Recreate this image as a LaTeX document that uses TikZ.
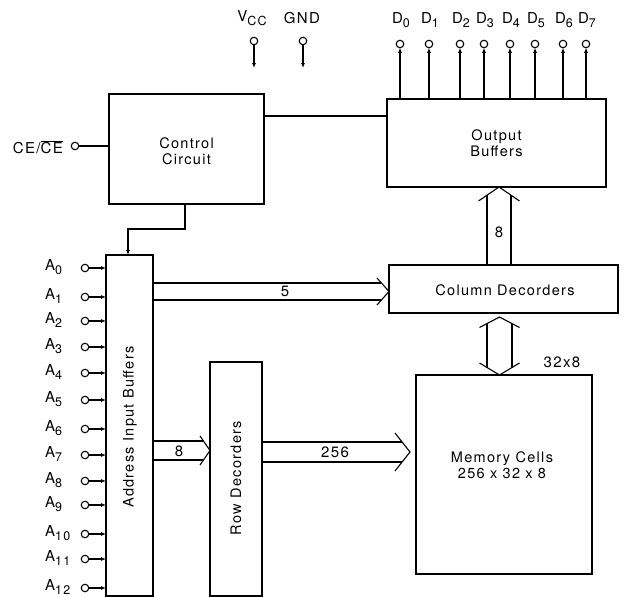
\documentclass[tikz,border=0pt]{standalone}
\usepackage{fontspec}
\setmainfont{TeX Gyre Heros}[LetterSpace=9]
\usetikzlibrary{calc,arrows.meta}
\newcommand\sbs[1]{\raisebox{-0.5ex}{\fontsize{12.5}{12.5}\selectfont #1}}
% open chevron heads: #1 tip coordinate name, #2 head length, #3 barb half span
\newcommand\headR[3]{\draw[bus] ($(#1)+(-#2,-#3)$) -- (#1) -- ($(#1)+(-#2,#3)$);}
\newcommand\headU[3]{\draw[bus] ($(#1)+(-#3,#2)$) -- (#1) -- ($(#1)+(#3,#2)$);}
\newcommand\headD[3]{\draw[bus] ($(#1)+(-#3,-#2)$) -- (#1) -- ($(#1)+(#3,-#2)$);}
\begin{document}
\begin{tikzpicture}[x=1pt,y=-1pt,
  box/.style={draw,line width=1.4pt,inner sep=0pt,outer sep=0pt},
  bus/.style={line width=1.1pt},
  sig/.style={line width=1.1pt,-{Latex[length=5pt,width=4pt]}},
  wire/.style={line width=1.1pt},
  pin/.style={draw,circle,line width=1.1pt,minimum size=7.5pt,inner sep=0pt,outer sep=0pt},
  txt/.style={font=\fontsize{14.5}{16}\selectfont,align=center,inner sep=0pt},
  lab/.style={font=\fontsize{15}{16}\selectfont,inner sep=0pt}]
\useasboundingbox (0,0) rectangle (624,597);

% blocks
\node[box,minimum width=155pt,minimum height=110pt] (ctrl) at (186.5,149) {};
\node[txt] (ctrltxt) at (186.5,151) {Control\\Circuit};
\node[box,minimum width=219pt,minimum height=88pt] (out) at (496.5,143) {};
\node[txt] (outtxt) at (496.5,143.5) {Output\\Buffers};
\node[box,minimum width=229pt,minimum height=48pt] (col) at (503.5,289) {};
\node[txt] (coltxt) at (505,290) {Column Decorders};
\node[box,minimum width=176pt,minimum height=199pt] (mem) at (504,474.5) {};
\node[txt] (memtxt) at (502,465) {Memory Cells\\256 x 32 x 8};
\node[box,minimum width=47pt,minimum height=341pt] (aib) at (129.5,425.5) {};
\node[txt,rotate=90] (aibtxt) at (130,427) {Address Input Buffers};
\node[box,minimum width=52pt,minimum height=234pt] (row) at (236,479) {};
\node[txt,rotate=90] (rowtxt) at (236,478) {Row Decorders};

% chip enable
\node[pin] (ce) at (75,146) {};
\node[lab,anchor=east] (celab) at (63,147) {CE/$\overline{\mbox{CE}}$};
\draw[wire] (ce.east) -- (ce -| ctrl.west);

% control to output buffers
\coordinate (c1) at ($(ctrl.east)+(0,-33)$);
\draw[wire] (c1) -- (c1 -| out.west);

% control to address buffers
\coordinate (c2) at ($(ctrl.south)+(-1.5,0)$);
\coordinate (c3) at ($(aib.north)+(-1.5,0)$);
\draw[sig] (c2) -- ++(0,25) -| (c3);

% supply pins
\node[pin] (vcc) at (254,41) {};
\coordinate (vccend) at (254,68);
\draw[sig] (vcc.south) -- (vccend);
\node[lab] (vcclab) at (252,18) {V\sbs{CC}};
\node[pin] (gnd) at (303,41) {};
\coordinate (gndend) at (303,68);
\draw[sig] (gnd.south) -- (gndend);
\node[lab] (gndlab) at (302,18) {GND};

% data pins
\foreach \i/\x in {0/400,1/429,2/460,3/484,4/510,5/535,6/563,7/586}{
  \node[pin] (d\i) at (\x,44) {};
  \node[lab] (dl\i) at (\x+1,20) {D\sbs{\i}};
  \draw[sig] (d\i |- out.north) -- (d\i.south);
}

% address pins
\foreach \i/\y in {0/268,1/297,2/321,3/347,4/373,5/400,6/429,7/455,8/481,9/505,10/534,11/559,12/588}{
  \node[pin] (a\i) at (85,\y) {};
  \node[lab,anchor=west] (al\i) at (45,\y-1) {A\sbs{\i}};
  \draw[sig] (a\i.east) -- (a\i -| aib.west);
}

% bus: address buffers -> column decoders (5)
\coordinate (t5) at ($(col.west)+(0,2.5)$);
\coordinate (s5) at (aib.east |- t5);
\draw[bus] ($(s5)+(0,-8.5)$) -- ($(t5)+(-7.6,-8.5)$);
\draw[bus] ($(s5)+(0,8.5)$) -- ($(t5)+(-7.6,8.5)$);
\headR{t5}{12}{13.5}
\node[lab] (l5) at (285,291) {5};

% bus: address buffers -> row decoders (8)
\coordinate (t8) at (row.west |- 0,450.5);
\coordinate (s8) at (aib.east |- t8);
\draw[bus] ($(s8)+(0,-9.5)$) -- ($(t8)+(-6.6,-9.5)$);
\draw[bus] ($(s8)+(0,9.5)$) -- ($(t8)+(-6.6,9.5)$);
\headR{t8}{10}{14.5}
\node[lab] (l8) at (179,451) {8};

% bus: row decoders -> memory cells (256)
\coordinate (t256) at ($(mem.west |- 0,452)+(-6,0)$);
\coordinate (s256) at (row.east |- t256);
\draw[bus] ($(s256)+(0,-10)$) -- ($(t256)+(-7.9,-10)$);
\draw[bus] ($(s256)+(0,10)$) -- ($(t256)+(-7.9,10)$);
\headR{t256}{15}{19}
\node[lab] (l256) at (335,452) {256};

% bus: column decoders -> output buffers (8)
\coordinate (tob) at ($(out.south)+(2.5,0)$);
\coordinate (sob) at (col.north -| tob);
\draw[bus] ($(sob)+(-12,0)$) -- ($(tob)+(-12,8.2)$);
\draw[bus] ($(sob)+(12,0)$) -- ($(tob)+(12,8.2)$);
\headU{tob}{14}{20.5}
\node[lab] (lo8) at (499,232) {8};

% bus: column decoders <-> memory cells (32x8)
\coordinate (tma) at ($(col.south)+(-4,4)$);
\coordinate (tmb) at (mem.north -| tma);
\draw[bus] ($(tma)+(-12.5,6.6)$) -- ($(tmb)+(-12.5,-7.5)$);
\draw[bus] ($(tma)+(12.5,6.6)$) -- ($(tmb)+(12.5,-7.5)$);
\headU{tma}{10.5}{20}
\headD{tmb}{12}{20}
\node[lab] (l328) at (562,362) {32x8};
\end{tikzpicture}
\end{document}
